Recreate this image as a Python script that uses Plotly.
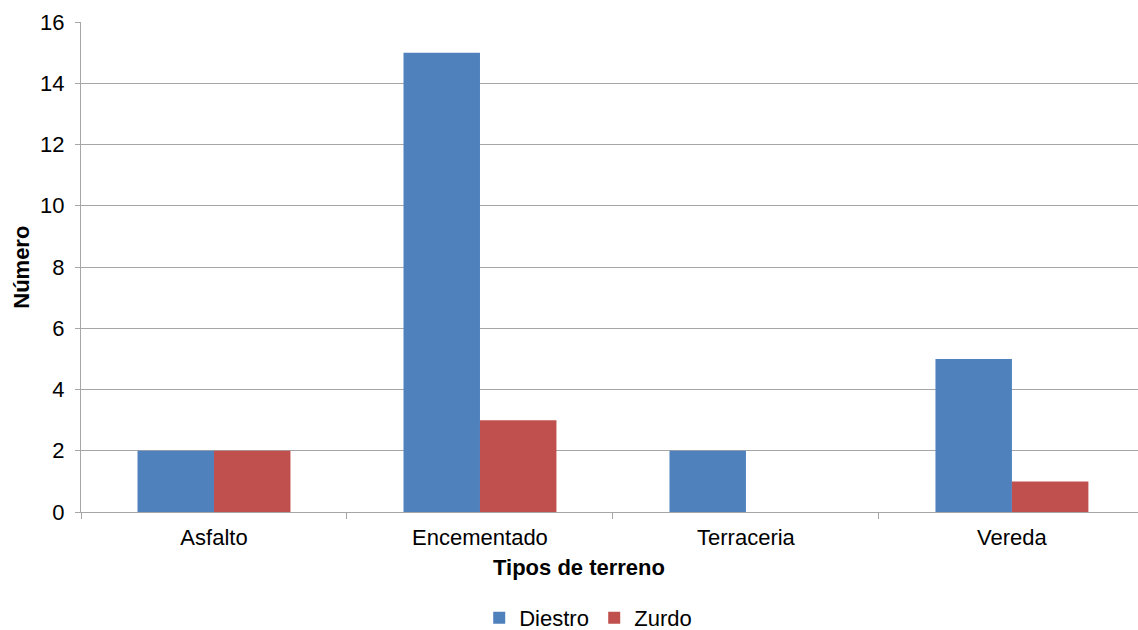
import plotly.graph_objects as go

categories = ["Asfalto", "Encementado", "Terraceria", "Vereda"]
diestro = [2, 15, 2, 5]
zurdo = [2, 3, 0, 1]

FONT = "Liberation Sans, Arial, sans-serif"
GRID = "#a6a6a6"

fig = go.Figure()
fig.add_trace(go.Bar(name="Diestro", x=categories, y=diestro, marker_color="#4F81BD",
                     marker_line_width=0))
fig.add_trace(go.Bar(name="Zurdo", x=categories, y=zurdo, marker_color="#C0504D",
                     marker_line_width=0))

fig.update_layout(
    width=1138, height=630,
    margin=dict(l=81, r=0, t=22, b=118),
    paper_bgcolor="white", plot_bgcolor="white",
    barmode="group", bargap=0.425, bargroupgap=0,
    font=dict(family=FONT, size=22, color="#000000"),
    showlegend=True,
    legend=dict(orientation="h", xref="container", yref="container",
                x=0.4211, xanchor="left", y=0.019, yanchor="middle",
                font=dict(size=22), itemwidth=30, traceorder="normal",
                entrywidth=70, entrywidthmode="pixels",
                bgcolor="rgba(0,0,0,0)"),
    xaxis=dict(type="category", range=[-0.5, 3.474], tickson="boundaries",
               ticks="outside", ticklen=6, tickcolor=GRID, showline=True,
               linecolor=GRID, linewidth=1, showgrid=False,
               tickfont=dict(size=22), ticklabelstandoff=6),
    yaxis=dict(range=[0, 16], dtick=2, ticks="outside", ticklen=5, tickcolor=GRID,
               showline=True, linecolor=GRID, linewidth=1, gridcolor=GRID,
               gridwidth=1, zeroline=False, tickfont=dict(size=22), ticklabelstandoff=6),
    annotations=[
        dict(text="<b>Tipos de terreno</b>", xref="paper", yref="paper", x=0.471,
             y=-0.114, xanchor="center", yanchor="middle", showarrow=False,
             font=dict(size=22)),
        dict(text="<b>Número</b>", xref="paper", yref="paper", x=-0.057, y=0.5,
             xanchor="center", yanchor="middle", showarrow=False, textangle=-90,
             font=dict(size=22)),
    ],
)

fig.write_html("out.html")
